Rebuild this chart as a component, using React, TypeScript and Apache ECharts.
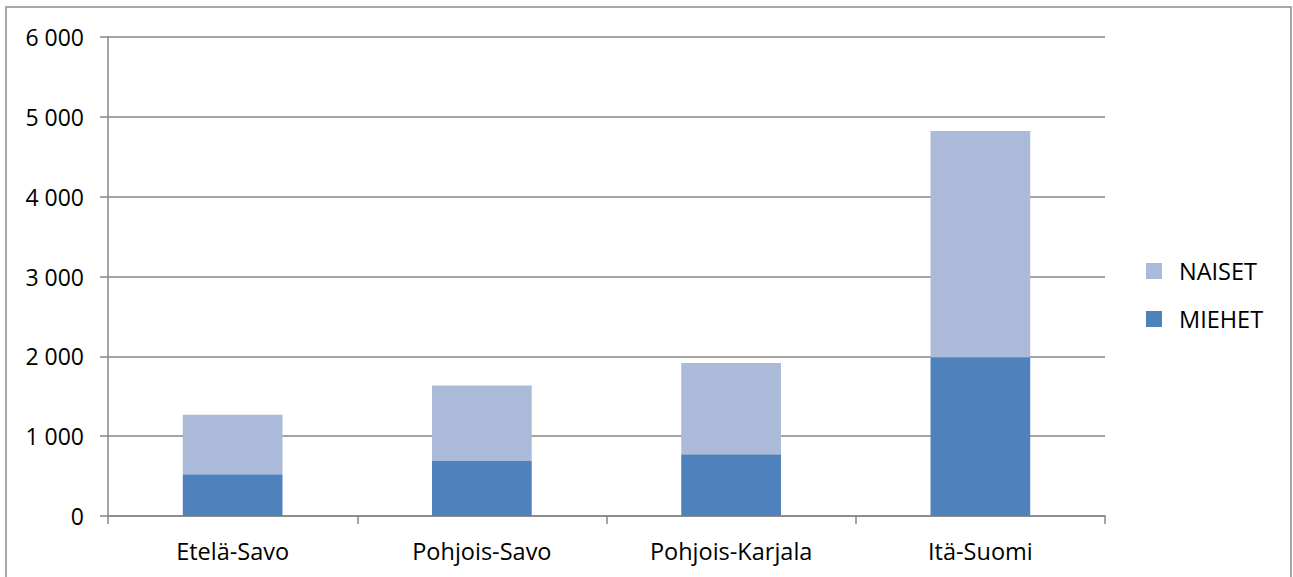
import React, { useEffect, useRef } from "react";
import * as echarts from "echarts";

const categories = ["Etelä-Savo", "Pohjois-Savo", "Pohjois-Karjala", "Itä-Suomi"];
const miehet = [523, 690, 774, 1990];
const naiset = [744, 946, 1142, 2832];
const yTicks = [0, 1000, 2000, 3000, 4000, 5000, 6000];

const FONT = "'Open Sans', 'Noto Sans', sans-serif";
const fmt = (v: number) => {
  const s = String(v);
  return s.length > 3 ? s.slice(0, s.length - 3) + " " + s.slice(-3) : s;
};

export default function App() {
  const ref = useRef<HTMLDivElement>(null);
  useEffect(() => {
    if (!ref.current) return;
    const chart = echarts.init(ref.current, undefined, { renderer: "svg" });
    chart.setOption({
      animation: false,
      backgroundColor: "#ffffff",
      textStyle: { fontFamily: FONT },
      graphic: [
        {
          type: "rect",
          shape: { x: 6, y: 7, width: 1285, height: 600 },
          style: { fill: "none", stroke: "#8c8c8c", lineWidth: 1.5 },
          silent: true,
        },
      ],
      grid: { left: 108, right: 188, top: 37, bottom: 61, containLabel: false },
      legend: {
        orient: "vertical",
        left: 1146,
        top: 259,
        padding: 0,
        itemWidth: 16,
        itemHeight: 16,
        itemGap: 24,
        icon: "rect",
        data: ["NAISET", "MIEHET"],
        textStyle: {
          fontFamily: FONT,
          fontSize: 23.5,
          lineHeight: 24,
          color: "#000",
          padding: [0, 0, 0, 12],
        },
      },
      xAxis: {
        type: "category",
        data: categories,
        axisLine: { show: true, lineStyle: { color: "#868686", width: 1.5 } },
        axisTick: { show: true, length: 8, lineStyle: { color: "#868686", width: 1.5 } },
        axisLabel: { fontFamily: FONT, fontSize: 23.5, color: "#000", margin: 23 },
      },
      yAxis: {
        type: "value",
        min: yTicks[0],
        max: yTicks[yTicks.length - 1],
        interval: 1000,
        axisLine: { show: true, lineStyle: { color: "#868686", width: 1.5 } },
        axisTick: { show: true, length: 8, lineStyle: { color: "#868686", width: 1.5 } },
        splitLine: { show: true, lineStyle: { color: "#868686", width: 1.5 } },
        axisLabel: {
          fontFamily: FONT,
          fontSize: 23,
          color: "#000",
          margin: 24,
          formatter: (v: number) => fmt(v),
        },
      },
      series: [
        {
          name: "MIEHET",
          type: "bar",
          stack: "total",
          barWidth: "40%",
          data: miehet,
          itemStyle: { color: "#4f81bd" },
        },
        {
          name: "NAISET",
          type: "bar",
          stack: "total",
          barWidth: "40%",
          data: naiset,
          itemStyle: { color: "#aabad8" },
        },
      ],
    });
    return () => chart.dispose();
  }, []);
  return (
    <div
      ref={ref}
      style={{ position: "absolute", left: 0, top: 0, width: 1293, height: 577 }}
    />
  );
}
